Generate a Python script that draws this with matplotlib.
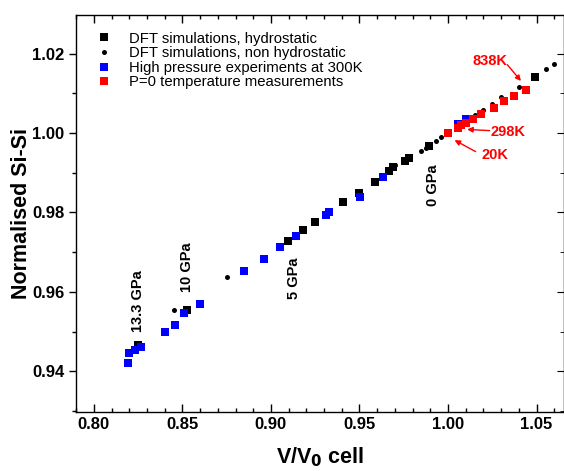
import matplotlib.pyplot as plt
from matplotlib.ticker import MultipleLocator, FormatStrFormatter

plt.rcParams['font.family'] = ['Liberation Sans', 'DejaVu Sans']

# DFT simulations, hydrostatic
hydro_v = [0.8248, 0.8525, 0.9095, 0.9179, 0.9247, 0.9405, 0.9495, 0.9586,
           0.9666, 0.9689, 0.9755, 0.9778, 0.9892, 1.0494]
hydro_r = [0.9467, 0.9553, 0.9728, 0.9756, 0.9777, 0.9825, 0.9850, 0.9877,
           0.9905, 0.9915, 0.9930, 0.9936, 0.9967, 1.0142]

# DFT simulations, non hydrostatic
nonhydro_v = [0.8453, 0.8751, 0.9084, 0.9700, 0.9849, 0.9877, 0.9934, 0.9962,
              1.0150, 1.0197, 1.0250, 1.0301, 1.0400, 1.0551, 1.0599]
nonhydro_r = [0.9553, 0.9638, 0.9731, 0.9920, 0.9955, 0.9962, 0.9981, 0.9989,
              1.0045, 1.0058, 1.0073, 1.0091, 1.0115, 1.0160, 1.0175]

# High pressure experiments at 300K
hp_v = [0.8195, 0.8199, 0.8231, 0.8265, 0.8401, 0.8460, 0.8508, 0.8598,
        0.8846, 0.8959, 0.9050, 0.9140, 0.9313, 0.9326, 0.9505, 0.9633,
        1.0054, 1.0102]
hp_r = [0.9421, 0.9446, 0.9453, 0.9461, 0.9499, 0.9516, 0.9546, 0.9570,
        0.9653, 0.9683, 0.9714, 0.9741, 0.9794, 0.9800, 0.9840, 0.9889,
        1.0023, 1.0036]

# P=0 temperature measurements
temp_v = [1.0000, 1.0056, 1.0071, 1.0099, 1.0141, 1.0188, 1.0257, 1.0317,
          1.0374, 1.0438]
temp_r = [1.0000, 1.0012, 1.0019, 1.0026, 1.0036, 1.0047, 1.0064, 1.0081,
          1.0093, 1.0109]

pressure_labels = ['13.3 GPa', '10 GPa', '5 GPa', '0 GPa']
pressure_x = [0.8248, 0.8525, 0.9129, 0.9913]
pressure_y = [0.9577, 0.9663, 0.9635, 0.9869]

fig = plt.figure(figsize=(5.64, 4.71), dpi=100)
ax = fig.add_axes([0.135, 0.125, 0.865, 0.843])

ax.plot(hydro_v, hydro_r, 's', color='black', ms=6.2, mew=0,
        label='DFT simulations, hydrostatic')
ax.plot(nonhydro_v, nonhydro_r, 'o', color='black', ms=3.6, mew=0,
        label='DFT simulations, non hydrostatic')
ax.plot(hp_v, hp_r, 's', color='#0000ff', ms=6.2, mew=0,
        label='High pressure experiments at 300K')
ax.plot(temp_v, temp_r, 's', color='#ff0000', ms=6.2, mew=0,
        label='P=0 temperature measurements')

for lab, x, y in zip(pressure_labels, pressure_x, pressure_y):
    ax.text(x, y, lab, rotation=90, ha='center', va='center',
            fontsize=10.5, fontweight='bold')

arrow = dict(arrowstyle='-|>', color='#ff0000', lw=1, mutation_scale=8,
             shrinkA=0, shrinkB=0)
ax.text(1.0235, 1.0181, '838K', color='#ff0000', fontsize=10.5,
        fontweight='bold', ha='center', va='center')
ax.annotate('', xy=(1.0412, 1.0131), xytext=(1.0335, 1.0172), arrowprops=arrow)
ax.text(1.0336, 1.0003, '298K', color='#ff0000', fontsize=10.5,
        fontweight='bold', ha='center', va='center')
ax.annotate('', xy=(1.0108, 1.0009), xytext=(1.0235, 1.0006), arrowprops=arrow)
ax.text(1.0263, 0.9945, '20K', color='#ff0000', fontsize=10.5,
        fontweight='bold', ha='center', va='center')
ax.annotate('', xy=(1.0037, 0.9982), xytext=(1.0156, 0.9953), arrowprops=arrow)

ax.set_xlim(0.79, 1.0655)
ax.set_ylim(0.9297, 1.0297)
ax.xaxis.set_major_locator(MultipleLocator(0.05))
ax.xaxis.set_minor_locator(MultipleLocator(0.01))
ax.yaxis.set_major_locator(MultipleLocator(0.02))
ax.yaxis.set_minor_locator(MultipleLocator(0.01))
ax.xaxis.set_major_formatter(FormatStrFormatter('%.2f'))
ax.yaxis.set_major_formatter(FormatStrFormatter('%.2f'))

ax.tick_params(axis='x', which='both', direction='in', top=True)
ax.tick_params(axis='x', which='major', length=6, width=1)
ax.tick_params(axis='x', which='minor', length=3, width=1)
ax.tick_params(axis='y', which='major', direction='out', length=5, width=1)
ax.tick_params(axis='y', which='minor', direction='out', length=3, width=1)
ax.tick_params(labelsize=12)
for lbl in ax.get_xticklabels() + ax.get_yticklabels():
    lbl.set_fontweight('bold')

sec = ax.secondary_yaxis('right')
sec.yaxis.set_major_locator(MultipleLocator(0.02))
sec.yaxis.set_minor_locator(MultipleLocator(0.01))
sec.tick_params(which='both', direction='in', labelright=False)
sec.tick_params(which='major', length=5)
sec.tick_params(which='minor', length=3)

for sp in ax.spines.values():
    sp.set_linewidth(1)

ax.set_xlabel('V/V$_\\mathbf{0}$ cell', fontsize=15.5, fontweight='bold',
              labelpad=10)
ax.set_ylabel('Normalised Si-Si', fontsize=15.5, fontweight='bold',
              labelpad=0)

ax.legend(loc='upper left', bbox_to_anchor=(0.0, 0.992), frameon=False,
          fontsize=10.7, handletextpad=0.65, labelspacing=0.04,
          borderaxespad=0.5, handlelength=2.0)

fig.savefig('out.png', dpi=100)
